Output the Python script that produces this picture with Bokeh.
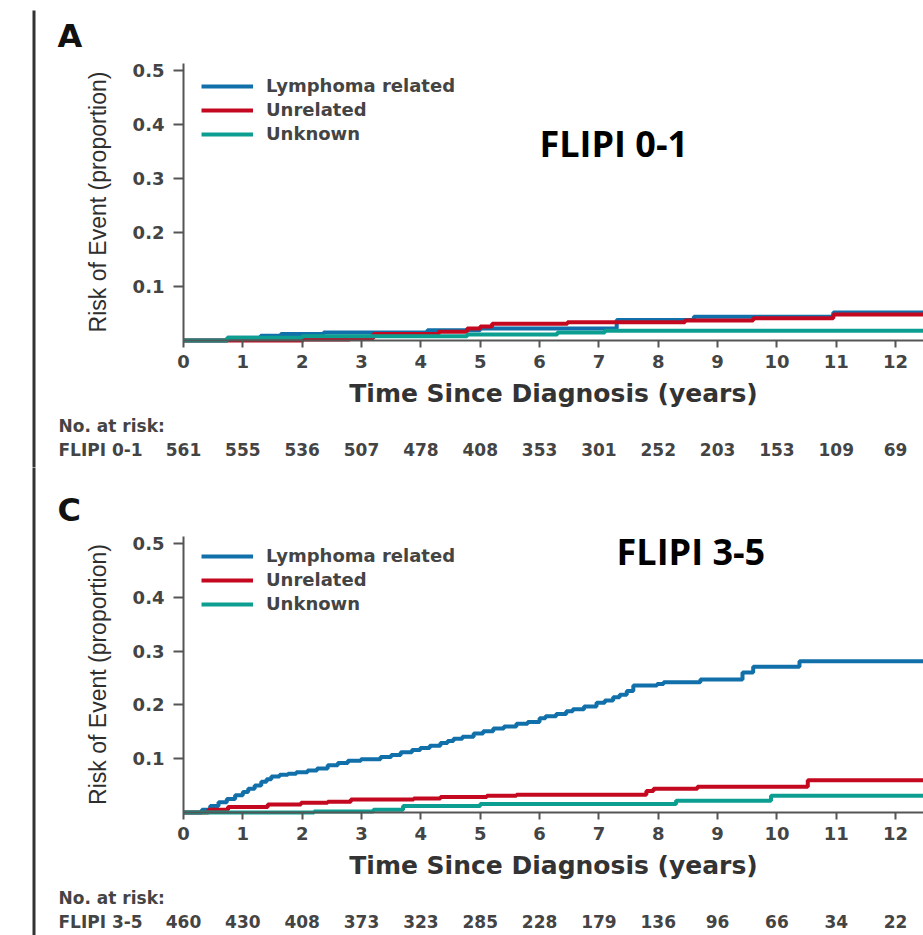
from bokeh.plotting import figure
from bokeh.layouts import column
from bokeh.models import (Range1d, FixedTicker, Label, LabelSet, BoxAnnotation,
                          Legend, LegendItem, ColumnDataSource)
from bokeh.core.properties import value
from bokeh.embed import file_html
from bokeh.resources import INLINE

# ---------------- data ----------------
years = list(range(13))
y_ticks = [0.1, 0.2, 0.3, 0.4, 0.5]
legend_labels = ["Lymphoma related", "Unrelated", "Unknown"]
colors = ["#1170aa", "#c4081f", "#0c9f91"]

# Panel A : FLIPI 0-1 (cumulative incidence, step functions)
a_lymph_t = [0, 0.74, 1.3, 1.64, 2.36, 4.11, 5.0, 7.3, 8.6, 10.95, 12.6]
a_lymph_v = [0, 0.005, 0.009, 0.012, 0.015, 0.019, 0.022, 0.038, 0.044, 0.052, 0.052]
a_unrel_t = [0, 2.02, 2.8, 3.2, 4.3, 4.78, 5.0, 5.2, 6.47, 8.45, 9.6, 10.95, 12.6]
a_unrel_v = [0, 0.002, 0.004, 0.012, 0.016, 0.022, 0.026, 0.031, 0.034, 0.037, 0.041, 0.048, 0.048]
a_unkn_t = [0, 0.74, 2.0, 4.78, 6.3, 7.1, 12.6]
a_unkn_v = [0, 0.005, 0.008, 0.011, 0.015, 0.018, 0.018]
a_at_risk = [561, 555, 536, 507, 478, 408, 353, 301, 252, 203, 153, 109, 69]

# Panel C : FLIPI 3-5
c_lymph_t = [0, 0.31, 0.45, 0.59, 0.73, 0.87, 1.0, 1.09, 1.2, 1.31, 1.4, 1.48, 1.62,
             1.76, 1.9, 2.09, 2.25, 2.43, 2.6, 2.77, 2.99, 3.32, 3.5, 3.66, 3.85,
             3.99, 4.15, 4.33, 4.45, 4.55, 4.7, 4.89, 5.05, 5.22, 5.4, 5.61, 5.8,
             6.0, 6.1, 6.28, 6.45, 6.56, 6.75, 6.96, 7.1, 7.24, 7.35, 7.47, 7.58,
             7.98, 8.09, 8.71, 9.42, 9.6, 10.38, 12.6]
c_lymph_v = [0, 0.005, 0.012, 0.019, 0.025, 0.032, 0.038, 0.044, 0.05, 0.057, 0.062,
             0.067, 0.07, 0.072, 0.075, 0.078, 0.082, 0.088, 0.092, 0.096, 0.099,
             0.103, 0.107, 0.112, 0.116, 0.12, 0.124, 0.129, 0.133, 0.137, 0.141,
             0.147, 0.151, 0.156, 0.16, 0.165, 0.168, 0.175, 0.179, 0.183, 0.188,
             0.192, 0.197, 0.204, 0.208, 0.214, 0.219, 0.226, 0.236, 0.239, 0.242,
             0.247, 0.26, 0.271, 0.281, 0.281]
c_unrel_t = [0, 0.42, 0.75, 1.42, 1.98, 2.43, 2.82, 3.88, 4.33, 5.11, 5.61, 7.8, 7.92,
             8.66, 10.52, 12.6]
c_unrel_v = [0, 0.005, 0.01, 0.015, 0.018, 0.02, 0.024, 0.026, 0.029, 0.031, 0.033,
             0.04, 0.044, 0.048, 0.06, 0.06]
c_unkn_t = [0, 2.2, 3.2, 3.7, 5.0, 8.3, 9.9, 12.6]
c_unkn_v = [0, 0.002, 0.005, 0.012, 0.016, 0.022, 0.031, 0.031]
c_at_risk = [460, 430, 408, 373, 323, 285, 228, 179, 136, 96, 66, 34, 22]

# ---------------- layout constants ----------------
W = 923
X0_PX = 183            # pixel of time 0
X_MAX = 12.47          # time at right edge of the picture
PPX = (W - X0_PX) / X_MAX
Y_TOP = 0.513
GRAY = "#444444"
BOLD_FONT = "DejaVu Sans"


def make_panel(letter, flipi, curves, at_risk, H, FB, PPY, line_top, letter_y, leg_vy):
    def dx(px):
        return (px - X0_PX) / PPX

    def dy(py):
        return (FB - py) / PPY

    p = figure(width=W, height=H, output_backend="svg", toolbar_location=None,
               x_range=Range1d(dx(0), dx(W)), y_range=Range1d(dy(H), dy(0)),
               min_border=0, min_border_left=0, min_border_right=0,
               min_border_top=0, min_border_bottom=0)
    p.outline_line_color = None
    p.xgrid.visible = False
    p.ygrid.visible = False
    p.background_fill_color = "white"
    p.border_fill_color = "white"

    # x axis
    xa = p.xaxis[0]
    xa.fixed_location = 0
    xa.bounds = (0, X_MAX)
    xa.ticker = FixedTicker(ticks=years)
    xa.axis_line_color = "#555555"
    xa.axis_line_width = 2
    xa.major_tick_line_color = "#555555"
    xa.major_tick_line_width = 2
    xa.major_tick_out = 7
    xa.major_tick_in = 0
    xa.minor_tick_out = 0
    xa.minor_tick_in = 0
    xa.major_label_text_font = BOLD_FONT
    xa.major_label_text_font_style = "bold"
    xa.major_label_text_font_size = "18px"
    xa.major_label_text_color = GRAY
    xa.major_label_standoff = 7
    xa.axis_label = "Time Since Diagnosis (years)"
    xa.axis_label_text_font = BOLD_FONT
    xa.axis_label_text_font_style = "bold"
    xa.axis_label_text_font_size = "25px"
    xa.axis_label_text_color = "#333333"
    xa.axis_label_standoff = 8

    # y axis
    ya = p.yaxis[0]
    ya.fixed_location = 0
    ya.bounds = (0, Y_TOP)
    ya.ticker = FixedTicker(ticks=y_ticks)
    ya.axis_line_color = "#555555"
    ya.axis_line_width = 2
    ya.major_tick_line_color = "#555555"
    ya.major_tick_line_width = 2
    ya.major_tick_out = 10
    ya.major_tick_in = 0
    ya.minor_tick_out = 0
    ya.minor_tick_in = 0
    ya.major_label_text_font = BOLD_FONT
    ya.major_label_text_font_style = "bold"
    ya.major_label_text_font_size = "18px"
    ya.major_label_text_color = GRAY
    ya.major_label_standoff = 9
    ya.axis_label = "Risk of Event (proportion)"
    ya.axis_label_text_font = "Liberation Sans"
    ya.axis_label_text_font_style = "normal"
    ya.axis_label_text_font_size = "23px"
    ya.axis_label_text_color = "#2e2e2e"
    ya.axis_label_standoff = 19

    # curves
    items = []
    for (t, v), col, lab in zip(curves, colors, legend_labels):
        r = p.step(t, v, mode="after", line_width=4, line_color=col)
        items.append(LegendItem(label=lab, renderers=[r]))

    legend = Legend(items=items, location=(196, leg_vy), padding=5,
                    glyph_width=52, glyph_height=20, label_height=20, spacing=3,
                    label_standoff=13, label_text_font=BOLD_FONT,
                    label_text_font_style="bold", label_text_font_size="18px",
                    label_text_color=GRAY, background_fill_alpha=0,
                    border_line_alpha=0)
    p.add_layout(legend)

    # panel letter
    p.add_layout(Label(x=dx(57), y=dy(letter_y), text=letter, text_font=BOLD_FONT,
                       text_font_style="bold", text_font_size="32px",
                       text_color="#111111", text_align="left",
                       text_baseline="middle"))
    # big title inside the plot
    p.add_layout(Label(x=flipi[1], y=flipi[2], text=flipi[0], text_font="Open Sans",
                       text_font_style="bold", text_font_size="36px",
                       text_color="#000000", text_align="center",
                       text_baseline="middle"))

    # number at risk
    p.add_layout(Label(x=dx(58), y=dy(FB + 85), text="No. at risk:",
                       text_font=BOLD_FONT, text_font_style="bold",
                       text_font_size="17px", text_color=GRAY,
                       text_align="left", text_baseline="middle"))
    p.add_layout(Label(x=dx(58), y=dy(FB + 109), text=flipi[0],
                       text_font=BOLD_FONT, text_font_style="bold",
                       text_font_size="17px", text_color=GRAY,
                       text_align="left", text_baseline="middle"))
    src = ColumnDataSource(dict(x=years, y=[dy(FB + 109)] * len(years),
                                txt=[str(n) for n in at_risk]))
    p.add_layout(LabelSet(x="x", y="y", text="txt", source=src,
                          text_font=value(BOLD_FONT), text_font_style="bold",
                          text_font_size=value("17px"), text_color=GRAY,
                          text_align="center", text_baseline="middle"))

    # left vertical rule
    p.add_layout(BoxAnnotation(left=dx(32), right=dx(35), top=dy(line_top),
                               bottom=dy(H + 5), fill_color="#333333",
                               fill_alpha=1, line_alpha=0))
    return p


pA = make_panel("A", ("FLIPI 0-1", 7.25, 0.365),
                [(a_lymph_t, a_lymph_v), (a_unrel_t, a_unrel_v), (a_unkn_t, a_unkn_v)],
                a_at_risk, 467, 340, 540.0, 10, 35, 318)
pC = make_panel("C", ("FLIPI 3-5", 8.55, 0.485),
                [(c_lymph_t, c_lymph_v), (c_unrel_t, c_unrel_v), (c_unkn_t, c_unkn_v)],
                c_at_risk, 468, 345, 538.0, -5, 42, 316)

layout = column(pA, pC, spacing=0)
open("out.html", "w").write(file_html(layout, INLINE))
